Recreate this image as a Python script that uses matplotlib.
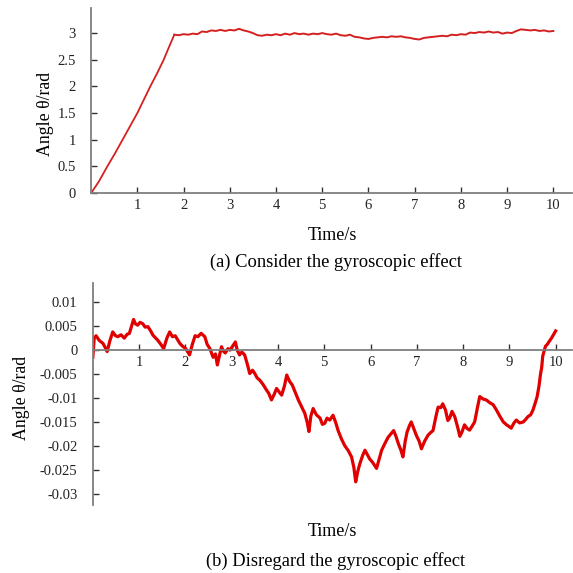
import numpy as np
import matplotlib.pyplot as plt

plt.rcParams['font.family'] = ['Liberation Serif', 'DejaVu Serif']

# (a) gyroscopic effect considered: rise, then noisy plateau
rise_t = [0.0, 0.17, 0.35, 0.52, 0.68, 0.84, 1.0, 1.14, 1.28, 1.43, 1.57, 1.69, 1.8]
rise_v = [0.0, 0.22, 0.5, 0.75, 1.0, 1.25, 1.5, 1.75, 2.0, 2.25, 2.5, 2.75, 2.97]
plateau_t = np.round(np.arange(1.8, 10.001, 0.1), 2)
plateau_v = [2.97, 2.96, 2.98, 2.97, 2.99, 2.98, 3.03, 3.02, 3.05, 3.04,
             3.06, 3.04, 3.06, 3.05, 3.08, 3.05, 3.03, 3.00, 2.96, 2.95,
             2.97, 2.96, 2.98, 2.96, 2.99, 2.97, 3.00, 2.98, 2.99, 2.97,
             2.99, 2.98, 3.00, 2.98, 2.97, 2.99, 2.96, 2.95, 2.97, 2.93,
             2.92, 2.90, 2.89, 2.91, 2.92, 2.93, 2.92, 2.94, 2.93, 2.94,
             2.92, 2.91, 2.89, 2.88, 2.91, 2.92, 2.93, 2.94, 2.95, 2.94,
             2.97, 2.96, 2.98, 2.97, 3.01, 3.00, 3.02, 3.01, 3.03, 3.01,
             3.02, 2.99, 3.01, 3.00, 3.04, 3.07, 3.06, 3.05, 3.06, 3.04,
             3.05, 3.03, 3.04]

# (b) gyroscopic effect disregarded
time_b = [0.00, 0.03, 0.07, 0.14, 0.22, 0.27, 0.31, 0.37, 0.43, 0.49,
          0.54, 0.61, 0.68, 0.74, 0.79, 0.88, 0.92, 0.97, 1.02, 1.08,
          1.13, 1.19, 1.25, 1.30, 1.35, 1.40, 1.47, 1.53, 1.60, 1.66,
          1.72, 1.78, 1.83, 1.88, 1.94, 2.00, 2.04, 2.09, 2.15, 2.21,
          2.27, 2.34, 2.42, 2.47, 2.53, 2.60, 2.65, 2.69, 2.78, 2.82,
          2.86, 2.92, 2.96, 3.02, 3.08, 3.12, 3.17, 3.22, 3.28, 3.34,
          3.39, 3.45, 3.50, 3.55, 3.61, 3.68, 3.75, 3.80, 3.86, 3.92,
          3.97, 4.03, 4.08, 4.14, 4.19, 4.25, 4.31, 4.38, 4.44, 4.51,
          4.58, 4.63, 4.67, 4.71, 4.76, 4.83, 4.91, 4.96, 5.01, 5.06,
          5.12, 5.19, 5.25, 5.30, 5.37, 5.44, 5.52, 5.59, 5.64, 5.68,
          5.72, 5.77, 5.83, 5.88, 5.93, 5.98, 6.05, 6.13, 6.18, 6.24,
          6.31, 6.38, 6.44, 6.50, 6.55, 6.60, 6.66, 6.70, 6.75, 6.79,
          6.84, 6.88, 6.94, 6.99, 7.05, 7.10, 7.17, 7.24, 7.30, 7.35,
          7.41, 7.46, 7.52, 7.56, 7.62, 7.67, 7.71, 7.76, 7.82, 7.88,
          7.93, 7.98, 8.03, 8.09, 8.14, 8.20, 8.25, 8.31, 8.36, 8.43,
          8.50, 8.58, 8.65, 8.72, 8.80, 8.87, 8.94, 9.00, 9.04, 9.10,
          9.15, 9.22, 9.30, 9.35, 9.40, 9.46, 9.51, 9.56, 9.60, 9.64,
          9.67, 9.70, 9.72, 9.75, 9.78, 9.82, 9.86, 9.91, 9.97, 10.00]
angle_b = [-0.0015, 0.0025, 0.003, 0.002, 0.0014, 0.0005, -0.0003, 0.002, 0.0038, 0.003,
           0.0028, 0.0032, 0.0025, 0.0033, 0.0035, 0.0064, 0.0055, 0.0052, 0.0058, 0.0055,
           0.0048, 0.0049, 0.004, 0.0031, 0.0026, 0.0021, 0.0012, 0.0003, 0.0025, 0.0038,
           0.0028, 0.003, 0.0022, 0.0014, 0.0008, 0.0004, -0.0002, -0.001, 0.0012, 0.003,
           0.0028, 0.0035, 0.0028, 0.0012, 0.0003, -0.0015, -0.0008, -0.0031, 0.0007, -0.0002,
           -0.0006, 0.0003, 0.0, 0.0008, 0.0017, 0.0, -0.001, -0.0004, -0.001, -0.003,
           -0.0049, -0.0042, -0.0049, -0.0058, -0.0063, -0.0072, -0.0083, -0.009, -0.0104, -0.0092,
           -0.008, -0.0088, -0.0094, -0.0075, -0.0052, -0.0065, -0.0073, -0.009, -0.0104, -0.0118,
           -0.0132, -0.015, -0.017, -0.0138, -0.0122, -0.0135, -0.0142, -0.0155, -0.0153, -0.0142,
           -0.0146, -0.0136, -0.0152, -0.0168, -0.0185, -0.0199, -0.021, -0.0223, -0.0245, -0.0275,
           -0.0255, -0.0237, -0.022, -0.0209, -0.0218, -0.0227, -0.0235, -0.0247, -0.023, -0.0209,
           -0.0195, -0.0182, -0.0175, -0.0168, -0.018, -0.0195, -0.021, -0.0223, -0.019, -0.0171,
           -0.0158, -0.015, -0.0165, -0.0178, -0.019, -0.0206, -0.019, -0.0178, -0.0172, -0.0168,
           -0.014, -0.0119, -0.012, -0.0112, -0.0125, -0.0147, -0.0142, -0.0128, -0.0139, -0.016,
           -0.018, -0.017, -0.0156, -0.0164, -0.0167, -0.0158, -0.015, -0.012, -0.0097, -0.0102,
           -0.0104, -0.011, -0.0114, -0.0125, -0.0139, -0.015, -0.0156, -0.016, -0.0163, -0.0152,
           -0.0146, -0.0152, -0.015, -0.0145, -0.0139, -0.0135, -0.0125, -0.011, -0.0097, -0.0075,
           -0.0052, -0.0035, -0.0013, -0.0002, 0.0008, 0.0012, 0.0018, 0.0025, 0.0035, 0.004]

xticks = list(range(1, 11))
yticks_a = [0, 0.5, 1, 1.5, 2, 2.5, 3]
ylabels_a = ['0', '0.5', '1', '1.5', '2', '2.5', '3']
yticks_b = [0.01, 0.005, 0, -0.005, -0.01, -0.015, -0.02, -0.025, -0.03]
ylabels_b = ['0.01', '0.005', '0', '-0.005', '-0.01', '-0.015', '-0.02', '-0.025', '-0.03']

gray = '#7f7f7f'

fig = plt.figure(figsize=(5.73, 5.73), dpi=100)
ax1 = fig.add_axes([0.159, 0.663, 0.839, 0.323])
ax2 = fig.add_axes([0.162, 0.119, 0.836, 0.387])


def style(ax):
    for s in ['top', 'right']:
        ax.spines[s].set_visible(False)
    for s in ['left', 'bottom']:
        ax.spines[s].set_color(gray)
        ax.spines[s].set_linewidth(1.3)
    ax.tick_params(axis='both', direction='in', length=4, width=1, color='#333333',
                   labelsize=10.5, labelcolor='#222222')
    ax.tick_params(axis='y', pad=11)
    ax.tick_params(axis='x', pad=4)
    ax.set_xticks(xticks)
    ax.set_xticklabels([str(t) for t in xticks])


ax1.plot(rise_t, rise_v, color='#d42020', lw=1.3)
ax1.plot(plateau_t, plateau_v, color='#d42020', lw=1.4)
ax1.set_xlim(0, 10.4)
ax1.set_ylim(0, 3.47)
style(ax1)
ax1.set_yticks(yticks_a)
ax1.set_yticklabels(ylabels_a)

ax2.plot(time_b, angle_b, color='#e00000', lw=2.3)
ax2.set_xlim(0, 10.35)
ax2.set_ylim(-0.0323, 0.014)
style(ax2)
ax2.spines['bottom'].set_position(('data', 0))
ax2.set_yticks(yticks_b)
ax2.set_yticklabels(ylabels_b)

fig.text(46 / 573, 1 - 114 / 573, 'Angle θ/rad', rotation=90, ha='center', va='center', fontsize=12.8)
fig.text(22 / 573, 1 - 398 / 573, 'Angle θ/rad', rotation=90, ha='center', va='center', fontsize=12.8)
fig.text(332 / 573, 1 - 235 / 573, 'Time/s', ha='center', va='center', fontsize=13)
fig.text(336 / 573, 1 - 262 / 573, '(a) Consider the gyroscopic effect', ha='center', va='center', fontsize=13.3)
fig.text(332 / 573, 1 - 532 / 573, 'Time/s', ha='center', va='center', fontsize=13)
fig.text(336 / 573, 1 - 561 / 573, '(b) Disregard the gyroscopic effect', ha='center', va='center', fontsize=13.3)

fig.savefig('out.png', dpi=100)
